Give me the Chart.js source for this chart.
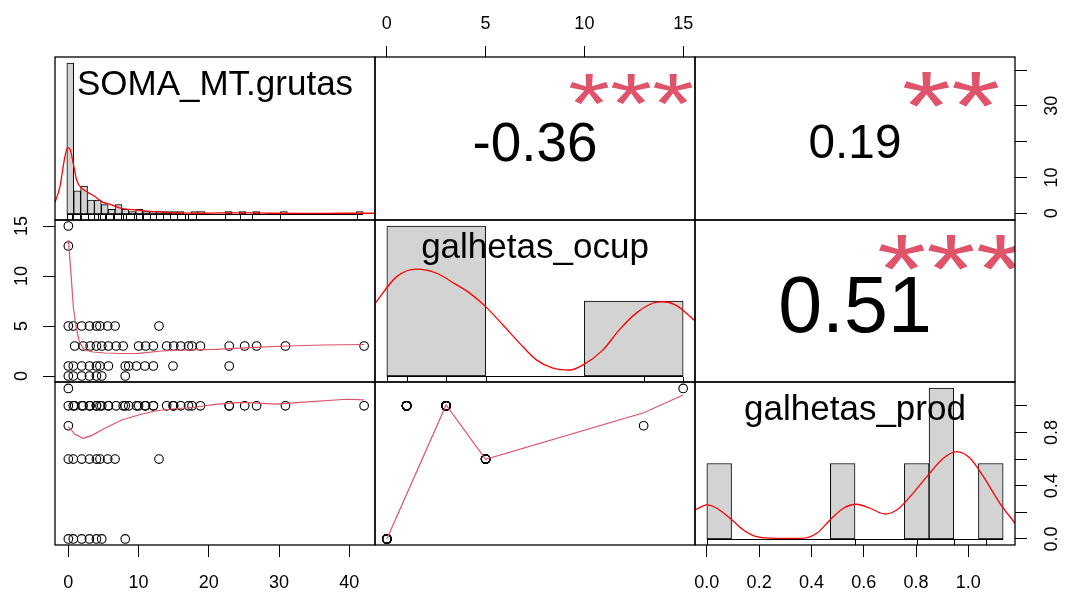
<!DOCTYPE html>
<html>
<head>
<meta charset="utf-8">
<title>chart.Correlation</title>
<script src="https://cdn.jsdelivr.net/npm/chart.js@4.4.1/dist/chart.umd.min.js"></script>
<style>
  html, body { margin: 0; padding: 0; background: #ffffff; }
  #matrix { position: relative; width: 1067px; height: 597px; overflow: hidden; background: #ffffff; }
  #matrix canvas { position: absolute; left: 0; top: 0; }
</style>
</head>
<body>
<div id="matrix"></div>
<script>
// ---- variables ------------------------------------------------------------
const varNames = ['SOMA_MT.grutas', 'galhetas_ocup', 'galhetas_prod'];

// galhetas_ocup levels and the galhetas_prod value paired with each level
const ocupLevels = [0, 1, 3, 5, 13, 15];
const prodLevels = [0, 1.0, 1.0, 0.6, 0.85, 1.13];

// SOMA_MT.grutas observations, grouped by their galhetas_ocup level
const somaOcup0 = [0, 0.7, 1.9, 3.0, 4.0, 4.75, 8.1];
const somaOcup1 = [0, 0.7, 1.9, 3.0, 4.0, 4.5, 5.7, 8.1, 8.6, 9.7, 10.9, 12.1, 14.9, 22.9];
const somaOcup3 = [0.9, 2.1, 3.1, 4.0, 4.75, 5.7, 6.8, 7.8, 10.0, 11.0, 12.1, 14.0, 15.0, 16.0, 17.1, 17.6, 18.8, 22.9, 25.1, 26.8, 30.9, 42.1];
const somaOcup5 = [0, 0.7, 1.9, 3.0, 4.0, 4.5, 5.6, 6.65, 12.9];
const somaOcup13 = [0];
const somaOcup15 = [0];

// histogram bins (start, width, counts)
const somaHistStart = 0, somaHistWidth = 1;
const somaHistCounts = [65, 10, 12, 6, 6, 4, 2, 4, 2, 1, 2, 1, 1, 1, 1, 1, 1, 0, 1, 1, 0, 0, 0, 1, 0, 1, 0, 1, 0, 0, 0, 1, 0, 0, 0, 0, 0, 0, 0, 0, 0, 0, 1];
const ocupHistStart = 0, ocupHistWidth = 5;
const ocupHistCounts = [4, 0, 2];
const prodHistStart = 0, prodHistWidth = 0.1;
const prodHistCounts = [1, 0, 0, 0, 0, 1, 0, 0, 1, 2, 0, 1];

// kernel density curves (in histogram count units)
const somaDensX = [-1.72, -1.0, -0.28, 0.12, 0.45, 0.93, 1.42, 2.14, 3.1, 4.07, 5.04, 6.49, 7.9, 10.3, 12.8, 16.0, 19.5, 22.4, 25.3, 27.2, 30.0, 35.0, 40.0, 44.72];
const somaDensY = [5.0, 11.8, 24.7, 28.6, 28.0, 21.8, 14.6, 11.1, 9.2, 7.5, 5.3, 3.9, 2.4, 1.7, 1.0, 0.5, 0.3, 0.5, 0.5, 0.5, 0.3, 0.25, 0.3, 0.3];
const ocupDensX = [-0.59, 0.50, 1.51, 2.52, 3.53, 4.20, 5.00, 5.88, 6.73, 7.57, 8.41, 9.25, 9.92, 10.93, 11.77, 12.61, 13.45, 13.96, 14.63, 15.56];
const ocupDensY = [1.94, 2.65, 2.85, 2.74, 2.43, 2.21, 1.85, 1.36, 0.87, 0.43, 0.21, 0.16, 0.29, 0.69, 1.23, 1.67, 1.94, 1.98, 1.89, 1.49];
const prodDensX = [-0.048, 0.0, 0.04, 0.094, 0.148, 0.202, 0.283, 0.384, 0.445, 0.499, 0.553, 0.607, 0.661, 0.722, 0.769, 0.823, 0.891, 0.958, 1.012, 1.066, 1.12, 1.187, 1.248];
const prodDensY = [0.384, 0.451, 0.407, 0.274, 0.119, 0.030, 0.009, 0.009, 0.076, 0.252, 0.407, 0.460, 0.407, 0.331, 0.384, 0.561, 0.826, 1.069, 1.157, 1.069, 0.826, 0.473, 0.208];

// lowess smoothers for the lower panels
const smoothOcupX = [0, 0.34, 0.71, 1.1, 1.57, 2.14, 2.4, 3.5, 5.2, 7.5, 10.0, 13.3, 17.0, 20.9, 26.6, 31.0, 36.3, 42.1];
const smoothOcupY = [13.6, 10.6, 6.9, 4.9, 3.4, 2.75, 2.6, 2.4, 2.3, 2.25, 2.27, 2.5, 2.6, 2.67, 2.87, 3.0, 3.1, 3.15];
const smoothProdX = [0, 0.95, 2.1, 3.3, 5.2, 7.6, 10.0, 12.3, 14.7, 18.0, 20.9, 24.7, 29.7, 33.0, 39.6, 42.1];
const smoothProdY = [0.843, 0.786, 0.756, 0.776, 0.831, 0.893, 0.931, 0.961, 0.976, 0.989, 1.011, 1.026, 1.013, 1.026, 1.049, 1.044];
const smoothOcupProdX = [0, 3, 5, 13, 15];
const smoothOcupProdY = [0, 1.006, 0.598, 0.948, 1.081];

// correlations and significance stars (upper panels)
const corrValues = [-0.36, 0.19, 0.51];
const corrLabels = ['-0.36', '0.19', '0.51'];
const corrStars = ['***', '**', '***'];

// axis ticks and their labels
const somaTicks = [0, 10, 20, 30, 40];
const somaBottomLabels = ['0', '10', '20', '30', '40'];
const somaRightLabels = ['0', '10', '', '30', ''];
const ocupTicks = [0, 5, 10, 15];
const ocupLabels = ['0', '5', '10', '15'];
const prodTicks = [0, 0.2, 0.4, 0.6, 0.8, 1.0];
const prodBottomLabels = ['0.0', '0.2', '0.4', '0.6', '0.8', '1.0'];
const prodRightLabels = ['0.0', '', '0.4', '', '0.8', ''];

// ---- observation table ----------------------------------------------------
const somaGroups = [somaOcup0, somaOcup1, somaOcup3, somaOcup5, somaOcup13, somaOcup15];
const somaMT = [], galhetasOcup = [], galhetasProd = [];
somaGroups.forEach((group, k) => group.forEach(v => {
  somaMT.push(v);
  galhetasOcup.push(ocupLevels[k]);
  galhetasProd.push(prodLevels[k]);
}));

// ---- layout ---------------------------------------------------------------
const PAGE_W = 1067, PAGE_H = 597;
const COLS = [55, 375, 695, 1015];
const ROWS = [57, 220, 382, 545];
const FONT = '"Liberation Sans", Arial, Helvetica, sans-serif';
Chart.defaults.font.family = FONT;
Chart.defaults.font.size = 18;
Chart.defaults.color = '#000000';

// variable ranges with the usual 4% extension
const somaLim = [-1.9, 43.65];
const ocupLim = [-0.6, 15.6];
const prodLim = [-0.0453, 1.1786];

function histFrame(start, width, counts) {
  const lo = start, hi = start + counts.length * width, r = hi - lo;
  const top = Math.max(...counts);
  return { x: [lo - 0.04 * r, hi + 0.04 * r], y: [-0.04 * top, 1.04 * top], from: lo, to: hi };
}
const somaFrame = histFrame(somaHistStart, somaHistWidth, somaHistCounts);
const ocupFrame = histFrame(ocupHistStart, ocupHistWidth, ocupHistCounts);
const prodFrame = histFrame(prodHistStart, prodHistWidth, prodHistCounts);

function frameScale(axis, lim) {
  return { type: 'linear', axis, min: lim[0], max: lim[1], display: false, offset: false, grid: { offset: false } };
}
function axisScale(axis, position, lim, ticks, labels, a) {
  const vertical = position === 'left' || position === 'right';
  return {
    type: 'linear', axis, position, min: lim[0], max: lim[1], offset: false,
    afterBuildTicks: s => { s.ticks = ticks.map(v => ({ value: v })); },
    afterFit: s => { if (vertical) { s.width = a.size; } else { s.height = a.size; } },
    border: { display: false },
    grid: { offset: false, drawOnChartArea: false, drawTicks: true, tickLength: a.tick, color: '#000000', lineWidth: 1 },
    ticks: {
      autoSkip: false, padding: a.pad, color: '#000000', font: { size: 18, family: FONT },
      minRotation: vertical ? 90 : 0, maxRotation: vertical ? 90 : 0,
      crossAlign: vertical ? 'center' : 'near',
      callback: (v, i) => labels[i]
    }
  };
}

function histDatasets(start, width, counts, densX, densY) {
  return [
    { type: 'line', xAxisID: 'hx', yAxisID: 'hy', data: densX.map((x, i) => ({ x, y: densY[i] })),
      borderColor: '#FF0000', borderWidth: 1.3, pointRadius: 0, fill: false, cubicInterpolationMode: 'monotone' },
    { type: 'bar', xAxisID: 'hx', yAxisID: 'hy', data: counts.map((c, i) => ({ x: start + (i + 0.5) * width, y: c })),
      backgroundColor: '#D3D3D3', borderColor: '#000000', borderWidth: 1, borderSkipped: false,
      barPercentage: 1, categoryPercentage: 1 }
  ];
}
function scatterDatasets(xs, ys, sx, sy) {
  return [
    { data: sx.map((x, i) => ({ x, y: sy[i] })), showLine: true, borderColor: '#DF536B', borderWidth: 1.2,
      pointRadius: 0, fill: false, tension: 0 },
    { data: xs.map((x, i) => ({ x, y: ys[i] })), showLine: false, pointStyle: 'circle', pointRadius: 4.3,
      borderColor: '#000000', borderWidth: 1.1, backgroundColor: 'rgba(0,0,0,0)', clip: false }
  ];
}

// asterisk glyph: vertical squeeze and centre height (em) so it sits like the base-graphics symbol
const STAR_SQUEEZE = 0.78;
const STAR_MID_EM = 0.49;

function drawDecor(chart, d) {
  const ctx = chart.ctx, a = chart.chartArea;
  ctx.save();
  if (d.hist) {
    const hx = chart.scales.hx, hy = chart.scales.hy;
    ctx.strokeStyle = '#000000';
    ctx.lineWidth = 1;
    const y0 = Math.round(hy.getPixelForValue(0)) + 0.5;
    ctx.beginPath();
    ctx.moveTo(hx.getPixelForValue(d.hist.from), y0);
    ctx.lineTo(hx.getPixelForValue(d.hist.to), y0);
    ctx.stroke();
    // rug along the bottom of the panel
    const len = 0.03 * a.height;
    ctx.beginPath();
    d.hist.rug.forEach(v => {
      const x = Math.round(hx.getPixelForValue(v)) + 0.5;
      ctx.moveTo(x, a.bottom);
      ctx.lineTo(x, a.bottom - len);
    });
    ctx.stroke();
  }
  if (d.label) {
    ctx.fillStyle = '#000000';
    ctx.font = '35px ' + FONT;
    ctx.textAlign = 'center';
    ctx.textBaseline = 'alphabetic';
    ctx.fillText(d.label, (a.left + a.right) / 2, a.top + 38);
  }
  if (d.corr) {
    ctx.font = '100px ' + FONT;
    const w100 = ctx.measureText(d.corr.text).width;
    const starPx = 0.77 * a.width * 100 / w100;
    const numPx = starPx * (Math.abs(d.corr.r) + 0.3) / 1.3;
    const cx = a.left + 0.5 * a.width, cy = a.top + 0.5 * a.height;
    ctx.textAlign = 'center';
    ctx.textBaseline = 'alphabetic';
    ctx.fillStyle = '#000000';
    ctx.font = numPx.toFixed(1) + 'px ' + FONT;
    ctx.fillText(d.corr.text, cx, cy + 2.5 + 0.358 * numPx);
    ctx.save();
    ctx.beginPath();
    ctx.rect(a.left, a.top, a.width, a.height);
    ctx.clip();
    ctx.fillStyle = '#DF536B';
    ctx.font = starPx.toFixed(1) + 'px ' + FONT;
    ctx.translate(a.left + 0.8 * a.width, a.bottom - 0.8 * a.height + 2);
    ctx.scale(1, STAR_SQUEEZE);
    ctx.fillText(d.corr.stars, 0, STAR_MID_EM * starPx);
    ctx.restore();
  }
  ctx.strokeStyle = '#000000';
  ctx.lineWidth = 1.3;
  ctx.strokeRect(a.left, a.top, a.width, a.height);
  ctx.restore();
}

function makePanel(col, row, spec) {
  const canvas = document.createElement('canvas');
  canvas.width = PAGE_W;
  canvas.height = PAGE_H;
  document.getElementById('matrix').appendChild(canvas);
  const sz = spec.axisSize || {};
  const padding = {
    left: COLS[col] - (sz.left || 0),
    right: PAGE_W - COLS[col + 1] - (sz.right || 0),
    top: ROWS[row] - (sz.top || 0),
    bottom: PAGE_H - ROWS[row + 1] - (sz.bottom || 0)
  };
  return new Chart(canvas, {
    type: spec.type,
    data: { datasets: spec.datasets },
    options: {
      responsive: false, animation: false, devicePixelRatio: 1, events: [],
      layout: { padding },
      plugins: { legend: { display: false }, tooltip: { enabled: false } },
      scales: spec.scales
    },
    plugins: [{ id: 'panelDecor', afterDraw: chart => drawDecor(chart, spec.decor || {}) }]
  });
}

// ---- row 1 ----------------------------------------------------------------
makePanel(0, 0, {
  type: 'bar',
  datasets: histDatasets(somaHistStart, somaHistWidth, somaHistCounts, somaDensX, somaDensY),
  scales: { hx: frameScale('x', somaFrame.x), hy: frameScale('y', somaFrame.y) },
  decor: { hist: { from: somaFrame.from, to: somaFrame.to, rug: somaMT }, label: varNames[0] }
});
makePanel(1, 0, {
  type: 'scatter', datasets: [],
  axisSize: { top: 57 },
  scales: {
    x: axisScale('x', 'top', ocupLim, ocupTicks, ocupLabels, { size: 57, tick: 11, pad: 11.4 }),
    y: frameScale('y', [0, 1])
  },
  decor: { corr: { text: corrLabels[0], r: corrValues[0], stars: corrStars[0] } }
});
makePanel(2, 0, {
  type: 'scatter', datasets: [],
  axisSize: { right: 52 },
  scales: {
    x: frameScale('x', [0, 1]),
    y: axisScale('y', 'right', somaLim, somaTicks, somaRightLabels, { size: 52, tick: 12, pad: 14.7 })
  },
  decor: { corr: { text: corrLabels[1], r: corrValues[1], stars: corrStars[1] } }
});

// ---- row 2 ----------------------------------------------------------------
makePanel(0, 1, {
  type: 'scatter',
  datasets: scatterDatasets(somaMT, galhetasOcup, smoothOcupX, smoothOcupY),
  axisSize: { left: 55 },
  scales: {
    x: frameScale('x', somaLim),
    y: axisScale('y', 'left', ocupLim, ocupTicks, ocupLabels, { size: 55, tick: 12, pad: 11.3 })
  }
});
makePanel(1, 1, {
  type: 'bar',
  datasets: histDatasets(ocupHistStart, ocupHistWidth, ocupHistCounts, ocupDensX, ocupDensY),
  scales: { hx: frameScale('x', ocupFrame.x), hy: frameScale('y', ocupFrame.y) },
  decor: { hist: { from: ocupFrame.from, to: ocupFrame.to, rug: galhetasOcup }, label: varNames[1] }
});
makePanel(2, 1, {
  type: 'scatter', datasets: [],
  scales: { x: frameScale('x', [0, 1]), y: frameScale('y', [0, 1]) },
  decor: { corr: { text: corrLabels[2], r: corrValues[2], stars: corrStars[2] } }
});

// ---- row 3 ----------------------------------------------------------------
makePanel(0, 2, {
  type: 'scatter',
  datasets: scatterDatasets(somaMT, galhetasProd, smoothProdX, smoothProdY),
  axisSize: { bottom: 52 },
  scales: {
    x: axisScale('x', 'bottom', somaLim, somaTicks, somaBottomLabels, { size: 52, tick: 12, pad: 15.2 }),
    y: frameScale('y', prodLim)
  }
});
makePanel(1, 2, {
  type: 'scatter',
  datasets: scatterDatasets(galhetasOcup, galhetasProd, smoothOcupProdX, smoothOcupProdY),
  scales: { x: frameScale('x', ocupLim), y: frameScale('y', prodLim) }
});
makePanel(2, 2, {
  type: 'bar',
  datasets: histDatasets(prodHistStart, prodHistWidth, prodHistCounts, prodDensX, prodDensY),
  axisSize: { bottom: 52, right: 52 },
  scales: {
    hx: frameScale('x', prodFrame.x),
    hy: frameScale('y', prodFrame.y),
    ax: axisScale('x', 'bottom', prodLim, prodTicks, prodBottomLabels, { size: 52, tick: 12, pad: 15.2 }),
    ay: axisScale('y', 'right', prodLim, prodTicks, prodRightLabels, { size: 52, tick: 12, pad: 13 })
  },
  decor: { hist: { from: prodFrame.from, to: prodFrame.to, rug: galhetasProd }, label: varNames[2] }
});
</script>
</body>
</html>
